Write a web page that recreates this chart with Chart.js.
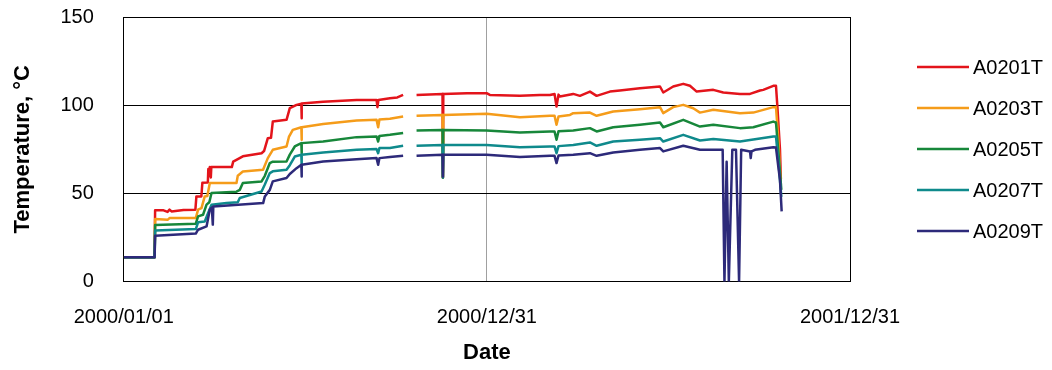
<!DOCTYPE html>
<html>
<head>
<meta charset="utf-8">
<script src="https://cdn.jsdelivr.net/npm/chart.js@4/dist/chart.umd.min.js"></script>
<style>
  body { margin: 0; background: #fff; }
  canvas { display: block; }
</style>
</head>
<body>
<canvas id="myChart" width="1052" height="370"></canvas>
<script>
// x = days since 2000/01/01, y = temperature (°C)
var xTickLabels = ["2000/01/01", "2000/12/31", "2001/12/31"];
var seriesNames = ["A0201T", "A0203T", "A0205T", "A0207T", "A0209T"];
var seriesColors = ["#e3141b", "#f59c1a", "#17873a", "#0f8a8c", "#2d2a7a"];

var a0201 = [[0,13.8],[31,13.8],[31.5,40.4],[40,40.4],[44,39.5],[46,40.8],[48,39.8],[60,40.6],[72,40.8],[73,48.3],[78,48.3],[79,56],[84.5,56.2],[85,63.8],[86,60],[86.5,65],[87.5,59],[88,64.9],[108.6,64.9],[110,68],[119.7,71],[138.5,72.8],[141,74],[144.8,81.3],[148,81.5],[149.8,90.7],[163.6,91.7],[166.9,98.3],[173.7,100.2],[178.5,100.8],[178.7,92.6],[179,100.9],[200.4,102],[234,103],[254.1,103],[255,98.9],[256,103],[267.5,104],[275,104.4],[280.8,105.8],[287,null],[294.3,105.8],[320.4,106.4],[320.8,59],[321.2,106.4],[345,106.8],[364.7,106.8],[368,105.8],[398.2,105.3],[418.3,105.8],[428.4,105.8],[433,106.4],[435,99.2],[437,106],[438.4,104.9],[451.8,106.4],[458.5,105.3],[468.6,107.7],[475.3,105.3],[488.7,107.7],[498.7,108.3],[518.8,109.6],[539,110.6],[542.3,107.2],[552.3,110.6],[562.4,112.1],[569.1,111],[575.9,107.7],[592.6,108.7],[602.6,107.2],[619.4,106.4],[629.5,106.4],[639.5,108.3],[642.8,108.7],[652.9,111],[655.6,111],[656.9,100.2],[659.6,75],[660.5,58]];
var a0203 = [[0,13.8],[31,13.8],[31.5,35.5],[44,35],[46,36],[72.4,36],[74.7,40.8],[78.1,41.7],[81.4,48.3],[84,48.5],[86.5,55.9],[88.2,55.9],[113.3,55.9],[114.6,60],[119.7,62.4],[140,63.4],[144.8,70],[149.8,74.7],[163.6,76.6],[166,82],[169.9,86],[178.5,87.5],[178.7,80.4],[179,87.5],[200.4,89.4],[234,91.3],[254.1,91.7],[255.7,87.5],[257,91.9],[267.5,92.3],[280.8,93.6],[287,null],[294.3,94],[320.4,94.5],[320.8,59],[321.2,94.5],[364.7,95.1],[398.2,93.2],[428.4,94],[433,94],[435,88.9],[437,93.6],[448.5,94.5],[451.8,95.5],[468.6,95.8],[475.3,94],[492,96.4],[518.8,97.7],[539,98.9],[542.3,95.5],[552.3,98.9],[562.4,100.2],[572.4,98.3],[579.2,95.8],[592.6,97.4],[619.4,95.5],[632.8,95.8],[652.9,98.9],[655.6,99],[658,80],[660.5,55]];
var a0205 = [[0,13.8],[31,13.8],[31.5,32.1],[72.4,32.8],[74.7,37],[79.7,37.9],[83.2,43.6],[86,45],[88.2,50.2],[113.3,51],[116.6,52],[119.7,55.9],[138.5,56.8],[141.8,60],[146.8,67.2],[149.8,68],[163.6,68.1],[166.9,72],[171.9,76.6],[178.5,78.5],[178.7,72.8],[179,78.5],[200.4,79.4],[234,81.9],[254.1,82.3],[255.7,79.4],[257,82.6],[267.5,83.2],[280.8,84.2],[287,null],[294.3,85.6],[320.4,86],[320.8,59],[321.2,86],[364.7,85.6],[398.2,84.5],[428.4,85.1],[433,85.1],[435,80.4],[437,85.3],[451.8,85.6],[468.6,87],[475.3,85.1],[492,87.5],[518.8,88.9],[539,90.2],[542.3,87.5],[562.4,91.7],[579.2,87.9],[592.6,88.9],[619.4,87],[632.8,87.5],[652.9,90.7],[655.6,90.2],[658.5,70],[661,52]];
var a0207 = [[0,13.8],[31,13.8],[31.5,29],[72.4,29.8],[74.7,33.6],[81.4,34.1],[84.8,38.9],[88.2,43.6],[103.3,44.5],[114.6,45],[116.6,47.4],[138.5,51.1],[141.8,55],[146.8,61.5],[149.8,62.5],[163.6,63.4],[166.9,66],[171.9,70.9],[178.5,71.9],[178.7,65.3],[179,71.9],[200.4,73.2],[234,74.7],[254.1,75.1],[255.7,72.8],[257,75.7],[267.5,75.7],[280.8,77],[287,null],[294.3,77],[320.4,77.5],[320.8,59],[321.2,77.5],[364.7,77.5],[398.2,76.2],[428.4,76.6],[433,76.6],[435,72.8],[437,76.8],[451.8,77.5],[468.6,78.9],[475.3,77],[492,79.4],[518.8,80.4],[539,81.3],[542.3,79.4],[562.4,83.2],[579.2,80],[592.6,80.8],[619.4,79.4],[652.9,82.3],[655.6,82.3],[658.5,65],[661,48]];
var a0209 = [[0,13.8],[31,13.8],[31.5,26],[72.4,27.2],[74.7,29.4],[83.2,31.3],[86.5,40.8],[88.5,42],[89.5,32.3],[90,42.6],[140.1,44.5],[141.8,48.3],[146.8,52],[149.8,56.8],[163.6,58.7],[166.9,61],[173.7,64.3],[178.5,66.2],[178.7,59.6],[179,66.2],[200.4,68.1],[234,69.4],[254.1,70],[255.7,66.2],[257,70],[267.5,70.6],[280.8,71.3],[287,null],[294.3,71.3],[320.4,71.9],[320.8,59.6],[321.2,71.9],[364.7,71.9],[398.2,70.6],[428.4,71.3],[433,71.3],[435,67.2],[437,71.5],[451.8,71.9],[468.6,72.8],[475.3,71.3],[492,73.2],[518.8,74.7],[539,75.7],[542.3,73.8],[562.4,77],[579.2,74.7],[599.3,74.7],[602,74.7],[603.8,0],[606,68],[608.2,0],[611.7,74.7],[615.4,74.7],[618.5,0],[620.6,74.7],[629.5,73.8],[630.2,70],[631,73.8],[634.5,74.7],[652.9,76.2],[655.6,76],[657.9,65.3],[659.6,57.7],[661.3,39.8]];

var allSeries = [a0201, a0203, a0205, a0207, a0209];
var font = "'Liberation Sans', Arial, sans-serif";

// legend drawn beside the plot, like the original sheet
var sideLegend = {
  id: "sideLegend",
  afterDraw: function (chart) {
    var ctx = chart.ctx;
    ctx.save();
    ctx.font = "20px " + font;
    ctx.textBaseline = "middle";
    ctx.fillStyle = "#000";
    chart.data.datasets.forEach(function (ds, i) {
      var y = 67 + i * 41;
      ctx.strokeStyle = ds.borderColor;
      ctx.lineWidth = 2.5;
      ctx.beginPath();
      ctx.moveTo(917, y);
      ctx.lineTo(969, y);
      ctx.stroke();
      ctx.fillText(ds.label, 973, y + 1);
    });
    ctx.restore();
  }
};

new Chart("myChart", {
  type: "line",
  data: {
    datasets: allSeries.map(function (s, i) {
      return {
        label: seriesNames[i],
        data: s,
        borderColor: seriesColors[i],
        backgroundColor: seriesColors[i],
        borderWidth: 2.5,
        borderJoinStyle: "round",
        pointRadius: 0,
        tension: 0,
        spanGaps: false,
        order: allSeries.length - i
      };
    })
  },
  options: {
    responsive: false,
    animation: false,
    devicePixelRatio: 1,
    layout: { padding: { left: 0, top: 17, right: 202, bottom: 0 } },
    plugins: { legend: { display: false }, tooltip: { enabled: false } },
    scales: {
      x: {
        type: "linear",
        min: 0,
        max: 730,
        border: { color: "#000" },
        grid: {
          tickLength: 24,
          tickColor: "rgba(0,0,0,0)",
          color: function (c) { return c.tick && c.tick.value === 365 ? "#a0a0a0" : "#000"; }
        },
        ticks: {
          stepSize: 365,
          autoSkip: false,
          maxRotation: 0,
          padding: 0,
          color: "#000",
          font: { family: font, size: 20 },
          callback: function (v, i) { return xTickLabels[i]; }
        },
        title: {
          display: true,
          text: "Date",
          color: "#000",
          font: { family: font, size: 22, weight: "bold" },
          padding: { top: 10, bottom: 4 }
        }
      },
      y: {
        min: 0,
        max: 150,
        border: { color: "#000" },
        grid: { tickLength: 30, tickColor: "rgba(0,0,0,0)", color: "#000" },
        ticks: {
          stepSize: 50,
          padding: 0,
          color: "#000",
          font: { family: font, size: 20 }
        },
        title: {
          display: true,
          text: "Temperature, °C",
          color: "#000",
          font: { family: font, size: 22, weight: "bold" },
          padding: { top: 10, bottom: 24 }
        }
      }
    }
  },
  plugins: [sideLegend]
});
</script>
</body>
</html>
